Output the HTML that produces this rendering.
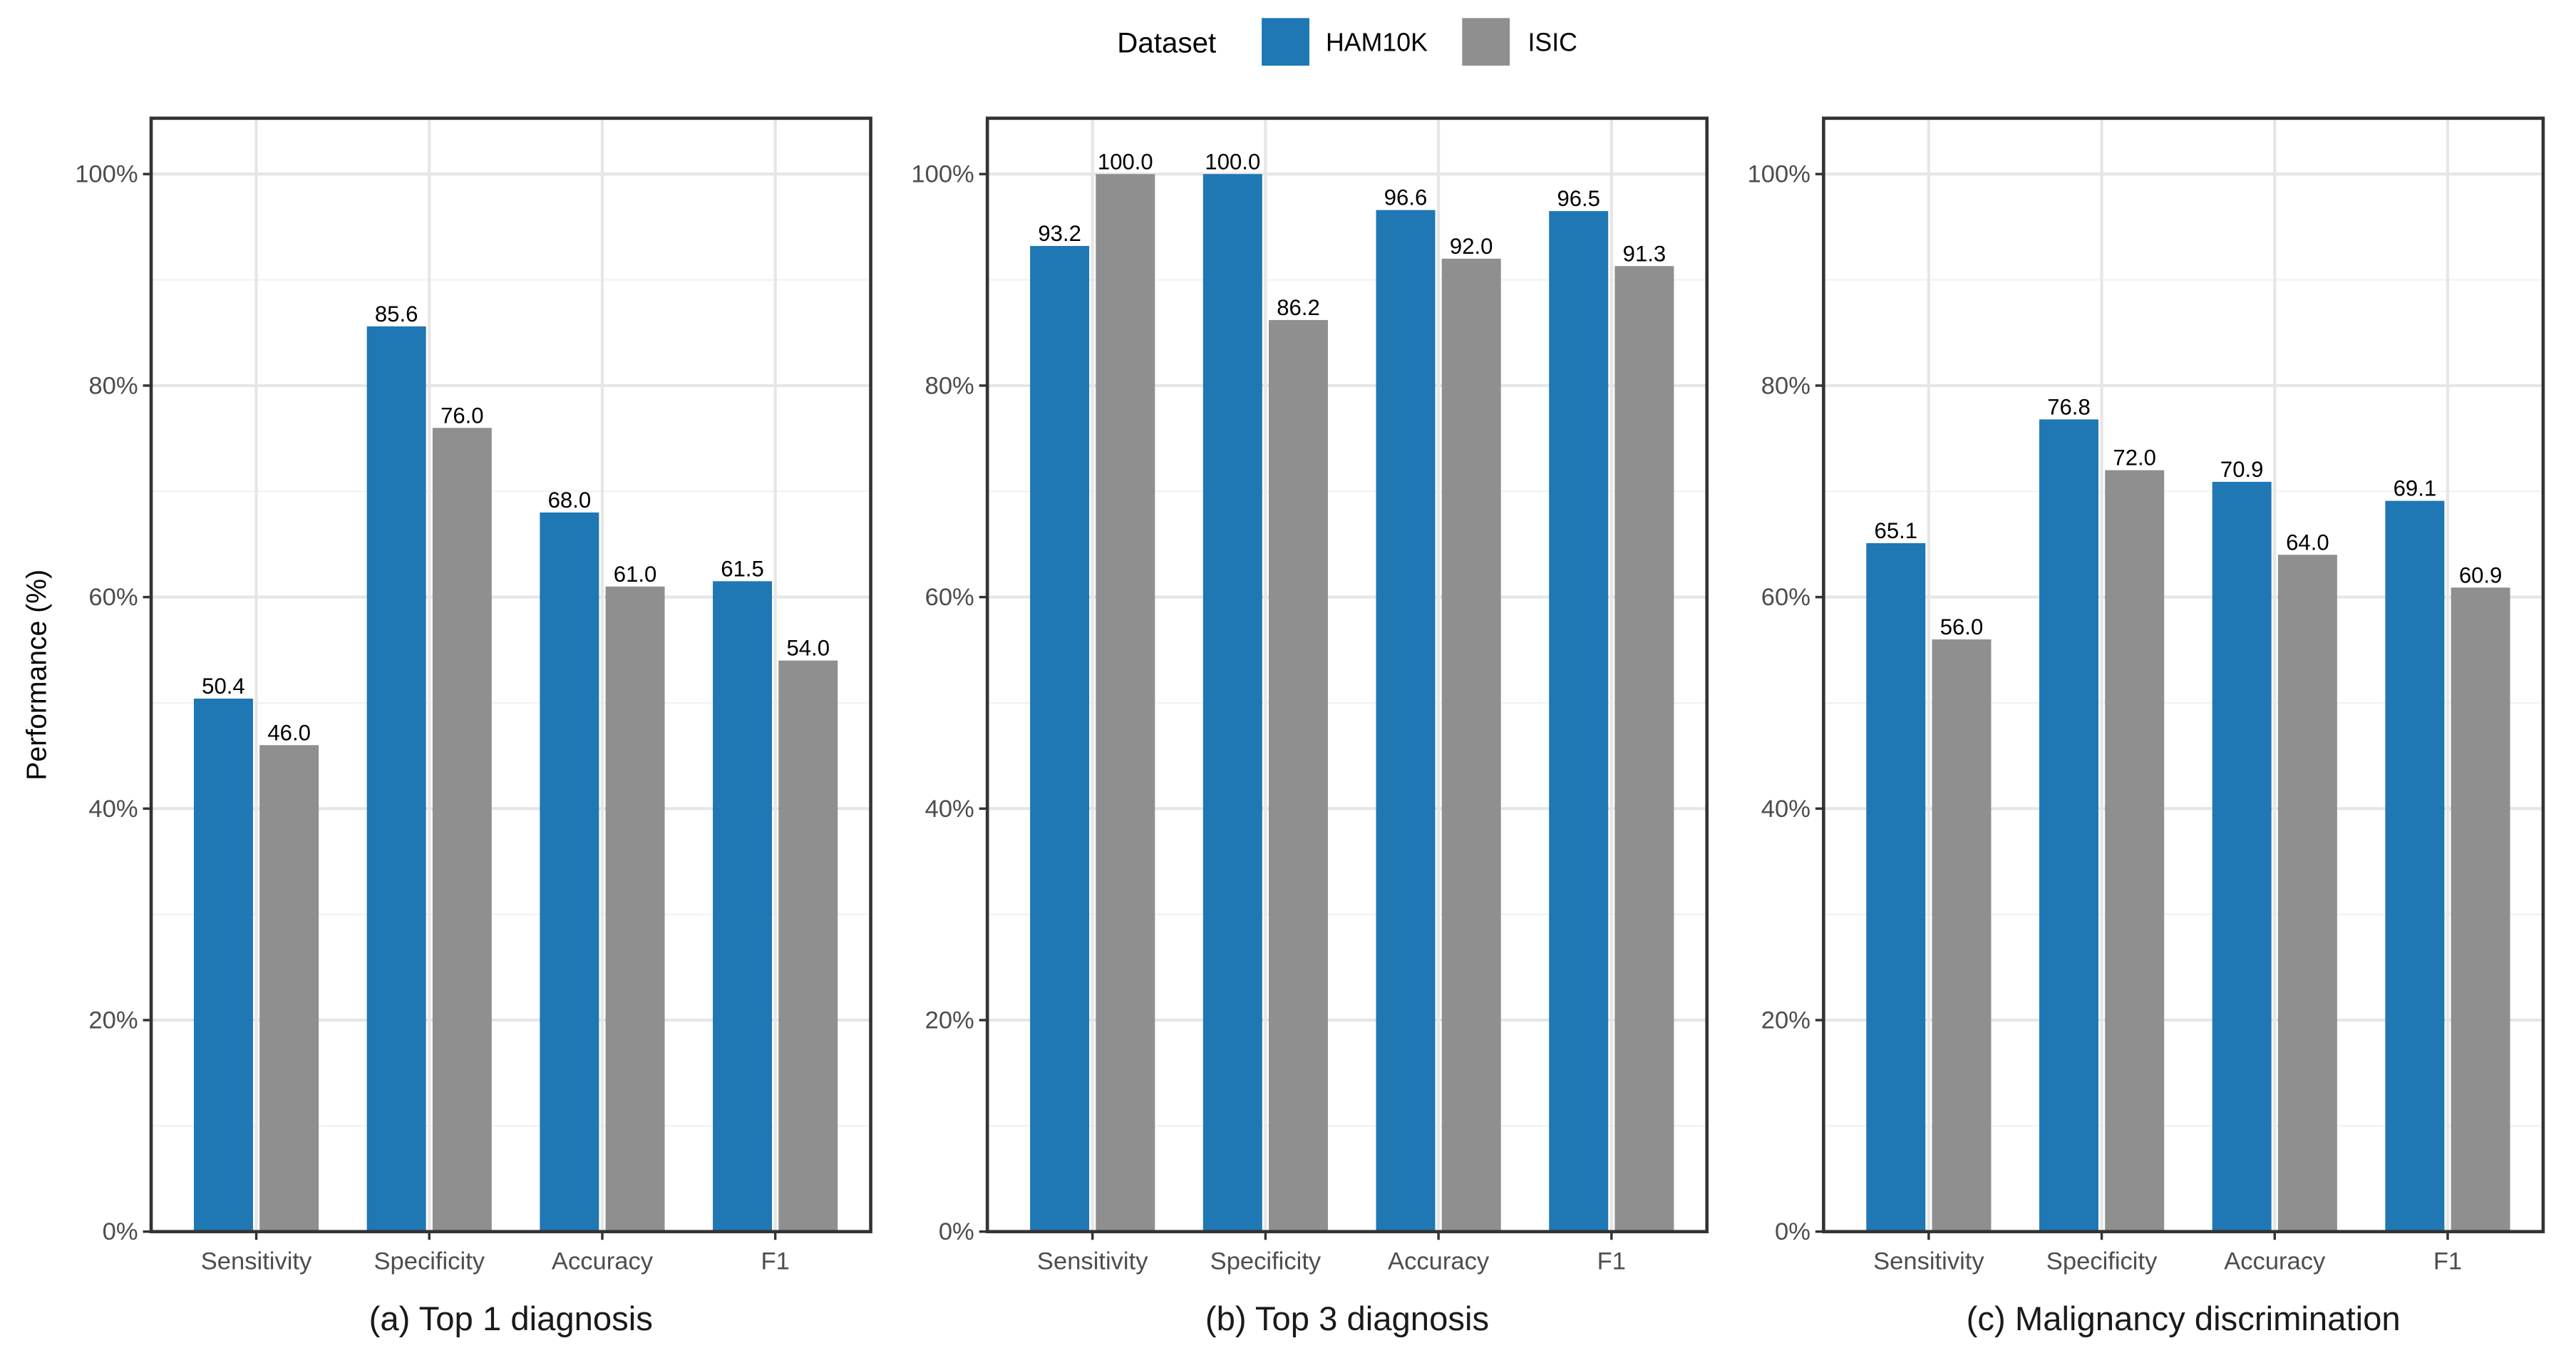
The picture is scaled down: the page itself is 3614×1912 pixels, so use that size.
<!DOCTYPE html>
<html><head><meta charset="utf-8"><style>
html,body{margin:0;padding:0;background:#fff;}
svg{display:block;font-family:"Liberation Sans",sans-serif;}
</style></head><body>
<svg id="chart" width="3614" height="1912" viewBox="0 0 1568 830" preserveAspectRatio="none" xmlns="http://www.w3.org/2000/svg">
<g>
<text x="680" y="32" font-size="17.5" fill="#000">Dataset</text>
<rect x="768" y="11" width="29" height="29" fill="#1f77b4"/>
<text x="807" y="31" font-size="15.5" fill="#000">HAM10K</text>
<rect x="890" y="11" width="29" height="29" fill="#8f8f8f"/>
<text x="930" y="31" font-size="15.5" fill="#000">ISIC</text>
</g>
<text transform="translate(28,411) rotate(-90)" text-anchor="middle" font-size="17" fill="#000">Performance (%)</text>
<g id="panels"></g>
</svg>
<script>
const categories = ["Sensitivity","Specificity","Accuracy","F1"];
const panelTitles = ["(a) Top 1 diagnosis","(b) Top 3 diagnosis","(c) Malignancy discrimination"];
const ham10k = [[50.4,85.6,68.0,61.5],[93.2,100.0,96.6,96.5],[65.1,76.8,70.9,69.1]];
const isic = [[46.0,76.0,61.0,54.0],[100.0,86.2,92.0,91.3],[56.0,72.0,64.0,60.9]];
const yTicks = [0,20,40,60,80,100];

const NS="http://www.w3.org/2000/svg";
const root=document.getElementById('panels');
function mk(tag,attrs,parent){const e=document.createElementNS(NS,tag);for(const k in attrs)e.setAttribute(k,attrs[k]);parent.appendChild(e);return e;}
const panelLefts=[92,601,1110], panelW=438, plotTop=72, plotBottom=750;
const y0=750, y100=106;
function yScale(v){return y0-(y0-y100)*v/100;}
const unit=105.3;
panelLefts.forEach((L,p)=>{
  const g=mk('g',{},root);
  
  
  const xC=i=>L+64+unit*i;
  for(let v=10;v<=100;v+=20){const l=mk('line',{x1:L,x2:L+panelW,y1:yScale(v),y2:yScale(v),stroke:'#f2f2f2','stroke-width':1},g);
    
    }
  yTicks.forEach(v=>{const l=mk('line',{x1:L,x2:L+panelW,y1:yScale(v),y2:yScale(v),stroke:'#e6e6e6','stroke-width':1.8},g);
    
    });
  categories.forEach((c,i)=>{const l=mk('line',{x1:xC(i),x2:xC(i),y1:plotTop,y2:plotBottom,stroke:'#e6e6e6','stroke-width':1.8},g);
    
    });
  const bw=36, gap=4;
  categories.forEach((c,i)=>{
    const series=[[ham10k[p][i],'#1f77b4',-1],[isic[p][i],'#8f8f8f',1]];
    series.forEach(([v,col,s])=>{
      const x = s<0 ? xC(i)-gap/2-bw : xC(i)+gap/2;
      const r=mk('rect',{x:x,y:yScale(v),width:bw,height:y0-yScale(v),fill:col},g);
      
      
      const t=mk('text',{x:x+bw/2,y:yScale(v)-3,'text-anchor':'middle','font-size':13.5,fill:'#000'},g);
      t.textContent=v.toFixed(1);
      
      
    });
    const tk=mk('line',{x1:xC(i),x2:xC(i),y1:plotBottom,y2:plotBottom+5,stroke:'#333','stroke-width':1.5},g);
    
    
    const tl=mk('text',{x:xC(i),y:773,'text-anchor':'middle','font-size':15,fill:'#4d4d4d'},g);
    tl.textContent=c;
    
    
  });
  yTicks.forEach(v=>{
    const tk=mk('line',{x1:L-5,x2:L,y1:yScale(v),y2:yScale(v),stroke:'#333','stroke-width':1.5},g);
    
    
    const t=mk('text',{x:L-8,y:yScale(v)+5,'text-anchor':'end','font-size':15,fill:'#4d4d4d'},g);
    t.textContent=v+'%';
    
    
  });
  const b=mk('rect',{x:L,y:plotTop,width:panelW,height:plotBottom-plotTop,fill:'none',stroke:'#333','stroke-width':2},g);
  
  
  const st=mk('text',{x:L+panelW/2,y:810,'text-anchor':'middle','font-size':20.5,fill:'#1a1a1a'},g);
  st.textContent=panelTitles[p];
  
  
});
</script>
</body></html>
